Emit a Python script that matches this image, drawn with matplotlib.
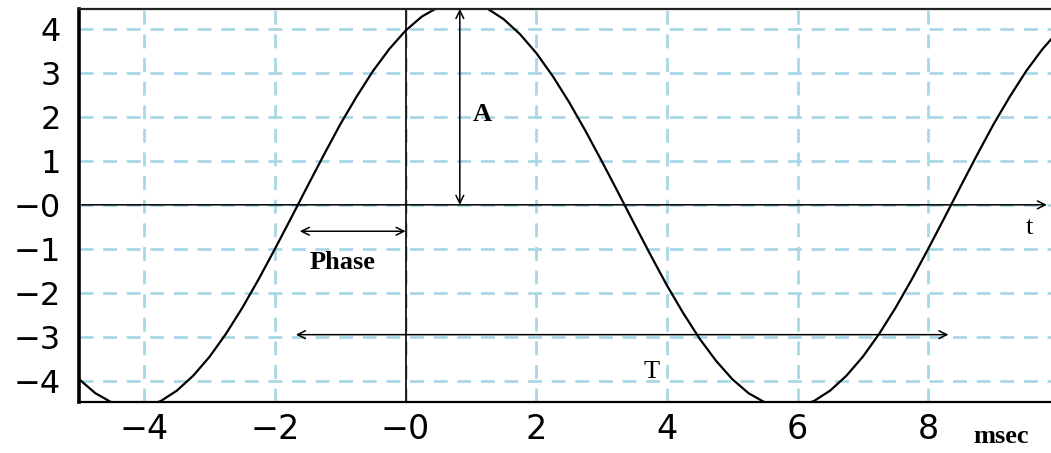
import numpy as np
import matplotlib
matplotlib.use("Agg")
import matplotlib.pyplot as plt

# values (msec, amplitude)
t = [-5.0, -4.75, -4.5, -4.25, -4.0, -3.75, -3.5, -3.25, -3.0, -2.75,
     -2.5, -2.25, -2.0, -1.75, -1.5, -1.25, -1.0, -0.75, -0.5, -0.25,
     0.0, 0.25, 0.5, 0.75, 1.0, 1.25, 1.5, 1.75, 2.0, 2.25,
     2.5, 2.75, 3.0, 3.25, 3.5, 3.75, 4.0, 4.25, 4.5, 4.75,
     5.0, 5.25, 5.5, 5.75, 6.0, 6.25, 6.5, 6.75, 7.0, 7.25,
     7.5, 7.75, 8.0, 8.25, 8.5, 8.75, 9.0, 9.25, 9.5, 9.75, 10.0]
y = [-3.96, -4.28, -4.49, -4.59, -4.58, -4.46, -4.22, -3.88, -3.45, -2.93,
     -2.34, -1.69, -1.00, -0.29, 0.43, 1.14, 1.83, 2.46, 3.04, 3.54,
     3.96, 4.28, 4.49, 4.59, 4.58, 4.46, 4.22, 3.88, 3.45, 2.93,
     2.34, 1.69, 1.00, 0.29, -0.43, -1.14, -1.83, -2.46, -3.04, -3.54,
     -3.96, -4.28, -4.49, -4.59, -4.58, -4.46, -4.22, -3.88, -3.45, -2.93,
     -2.34, -1.69, -1.00, -0.29, 0.43, 1.14, 1.83, 2.46, 3.04, 3.54, 3.96]

xticks = [-4, -2, 0, 2, 4, 6, 8]
xlabels = ["\u22124", "\u22122", "\u22120", "2", "4", "6", "8"]
yticks = [-4, -3, -2, -1, 0, 1, 2, 3, 4]
ylabels = ["\u22124", "\u22123", "\u22122", "\u22121", "\u22120", "1", "2", "3", "4"]

peak_t = 0.83
phase_t = -1.62
t_start, t_end = -1.68, 8.31

fig = plt.figure(figsize=(10.51, 4.53), dpi=100)
ax = fig.add_axes([79/1051, 1-402/453, 972/1051, 393/453])
ax.set_xlim(-5, 9.88)
ax.set_ylim(-4.48, 4.45)

ax.set_xticks(xticks)
ax.set_xticklabels(xlabels, fontsize=24, family="DejaVu Sans")
ax.set_yticks(yticks)
ax.set_yticklabels(ylabels, fontsize=23, family="DejaVu Sans")
ax.tick_params(length=0)
ax.tick_params(axis="y", pad=13)
ax.tick_params(axis="x", pad=8)

ax.grid(True, color="#a8d8e6", lw=2.0, linestyle=(0, (5, 3.5)))
ax.set_axisbelow(True)

ax.spines["right"].set_visible(False)
ax.spines["left"].set_linewidth(2.6)
ax.spines["top"].set_linewidth(1.6)
ax.spines["bottom"].set_linewidth(1.6)
ax.spines["top"].set_color("#222222")

# axis lines
ax.axvline(0, color="black", lw=1.2)
ax.annotate("", xy=(9.86, 0), xytext=(-5, 0),
            arrowprops=dict(arrowstyle="->", lw=1.1, color="black", mutation_scale=14))

ax.plot(t, y, color="black", lw=1.6)

# annotation arrows
ap = dict(arrowstyle="<->", lw=1.1, color="black", mutation_scale=14, shrinkA=0, shrinkB=0)
ax.annotate("", xy=(peak_t, 4.45), xytext=(peak_t, 0), arrowprops=ap)
ax.annotate("", xy=(phase_t, -0.6), xytext=(0, -0.6), arrowprops=ap)
ax.annotate("", xy=(t_start, -2.95), xytext=(t_end, -2.95), arrowprops=ap)

serif = "Liberation Serif"
ax.text(1.17, 2.05, "A", fontsize=19, fontweight="bold", family=serif, ha="center", va="center")
ax.text(-0.96, -1.3, "Phase", fontsize=19, fontweight="bold", family=serif, ha="center", va="center")
ax.text(3.76, -3.8, "T", fontsize=19, family=serif, ha="center", va="center")
ax.text(9.55, -0.52, "t", fontsize=19, family=serif, ha="center", va="center")
ax.text(9.12, -5.27, "msec", fontsize=19, fontweight="bold", family=serif,
        ha="center", va="center", clip_on=False)

fig.savefig("out.png", dpi=100)
